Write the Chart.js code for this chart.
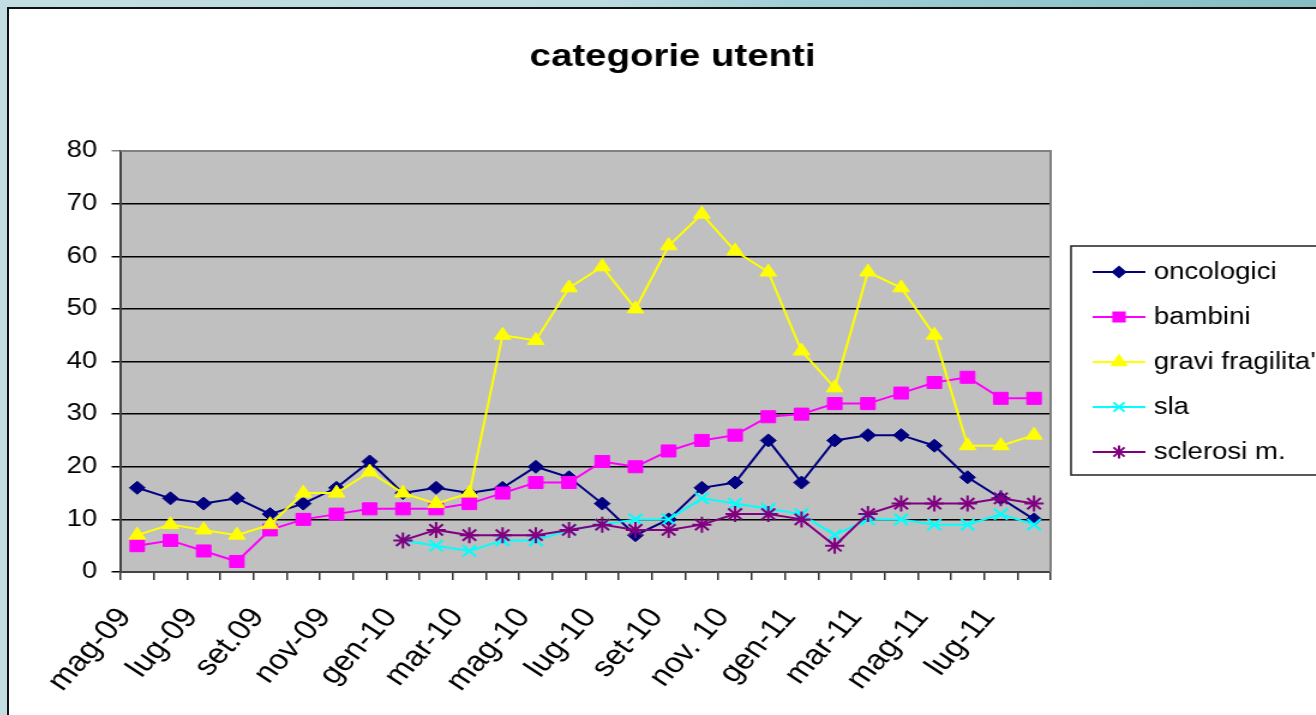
<!DOCTYPE html>
<html>
<head>
<meta charset="utf-8">
<script src="https://cdn.jsdelivr.net/npm/chart.js@4.4.1/dist/chart.umd.min.js"></script>
<style>
html,body{margin:0;padding:0;}
body{width:1316px;height:715px;overflow:hidden;position:relative;
  background:linear-gradient(90deg,#c2dee3 0%,#bddbe1 45%,#9fd0d6 60%,#86bec2 100%);}
#frame{position:absolute;left:7px;top:7px;width:1330px;height:730px;background:#fff;border:2px solid #111;box-sizing:border-box;}
/* the reference is stretched sideways, so the chart is too */
#wrap{position:absolute;left:9px;top:9px;width:1089px;height:706px;transform:scaleX(1.2);transform-origin:0 0;}
</style>
</head>
<body>
<div id="frame"></div>
<div id="wrap"><canvas id="chart"></canvas></div>
<script>
const chartTitle = "categorie utenti";
const months = ["mag-09","giu-09","lug-09","ago-09","set.09","ott-09","nov-09","dic-09",
  "gen-10","feb-10","mar-10","apr-10","mag-10","giu-10","lug-10","ago-10","set-10","ott-10",
  "nov. 10","dic-10","gen-11","feb-11","mar-11","apr-11","mag-11","giu-11","lug-11","ago-11"];

const oncologici = [16,14,13,14,11,13,16,21,15,16,15,16,20,18,13,7,10,16,17,25,17,25,26,26,24,18,14,10];
const bambini = [5,6,4,2,8,10,11,12,12,12,13,15,17,17,21,20,23,25,26,29.5,30,32,32,34,36,37,33,33];
const graviFragilita = [7,9,8,7,9,15,15,19,15,13,15,45,44,54,58,50,62,68,61,57,42,35,57,54,45,24,24,26];
const sla = [null,null,null,null,null,null,null,null,6,5,4,6,6,8,9,10,10,14,13,12,11,7,10,10,9,9,11,9];
const sclerosi = [null,null,null,null,null,null,null,null,6,8,7,7,7,8,9,8,8,9,11,11,10,5,11,13,13,13,14,13];

const yTicks = [0,10,20,30,40,50,60,70,80];

const FONT = "'Liberation Sans', Arial, sans-serif";

function series(label, data, color, style, radius, legendRadius, order){
  return {
    label, data, order,
    borderColor: color, backgroundColor: color,
    pointBorderColor: color, pointBackgroundColor: color,
    borderWidth: 2, pointStyle: style, pointRadius: radius, pointHoverRadius: radius,
    pointBorderWidth: (style === "star" || style === "crossRot") ? 2 : 1,
    legendRadius, tension: 0, spanGaps: false
  };
}

// grey plot area + frame lines + title
const plotBg = {
  id: "plotBg",
  beforeDraw(chart){
    const {ctx, chartArea: a} = chart;
    ctx.save();
    ctx.fillStyle = "#c0c0c0";
    ctx.fillRect(a.left, a.top, a.right - a.left, a.bottom - a.top);
    ctx.fillStyle = "#000";
    ctx.font = "bold 32px " + FONT;
    ctx.textAlign = "center";
    ctx.textBaseline = "middle";
    ctx.fillText(chartTitle, 553, 48);
    ctx.restore();
  },
  beforeDatasetsDraw(chart){
    const {ctx, chartArea: a} = chart;
    ctx.save();
    ctx.strokeStyle = "#808080";
    ctx.lineWidth = 2;
    ctx.beginPath();
    ctx.moveTo(a.left, a.top);
    ctx.lineTo(a.right, a.top);
    ctx.lineTo(a.right, a.bottom);
    ctx.stroke();
    ctx.restore();
  }
};

// excel style legend box on the right
const boxLegend = {
  id: "boxLegend",
  afterDraw(chart){
    const ctx = chart.ctx;
    const x0 = 885, y0 = 237, y1 = 466;
    ctx.save();
    ctx.fillStyle = "#fff";
    ctx.fillRect(x0, y0, chart.width - x0 + 5, y1 - y0);
    ctx.strokeStyle = "#222";
    ctx.lineWidth = 1.5;
    ctx.strokeRect(x0, y0, chart.width - x0 + 5, y1 - y0);
    chart.data.datasets.forEach((ds, i) => {
      const y = 263 + i * 45;
      ctx.strokeStyle = ds.borderColor;
      ctx.lineWidth = 2;
      ctx.beginPath();
      ctx.moveTo(903, y);
      ctx.lineTo(947, y);
      ctx.stroke();
      ctx.fillStyle = ds.backgroundColor;
      Chart.helpers.drawPoint(ctx, {
        pointStyle: ds.pointStyle, radius: ds.legendRadius, rotation: 0,
        borderWidth: ds.pointBorderWidth
      }, 925, y);
      ctx.fillStyle = "#000";
      ctx.font = "23px " + FONT;
      ctx.textBaseline = "middle";
      ctx.fillText(ds.label, 954, y + 1);
    });
    ctx.restore();
  }
};

new Chart(document.getElementById("chart"), {
  type: "line",
  data: {
    labels: months,
    datasets: [
      series("oncologici", oncologici, "#000080", "rectRot", 6.5, 5, 5),
      series("bambini", bambini, "#ff00ff", "rect", 8.5, 6.5, 4),
      series("gravi fragilita'", graviFragilita, "#ffff00", "triangle", 8, 6.5, 3),
      series("sla", sla, "#00ffff", "crossRot", 8, 6.5, 2),
      series("sclerosi m.", sclerosi, "#800080", "star", 8, 6.5, 1)
    ]
  },
  options: {
    responsive: true,
    maintainAspectRatio: false,
    animation: false,
    events: [],
    layout: { padding: { left: 0, right: 221, top: 142, bottom: 0 } },
    plugins: {
      legend: { display: false },
      tooltip: { enabled: false },
      title: { display: false }
    },
    scales: {
      x: {
        offset: true,
        grid: { offset: true, drawOnChartArea: false, color: "#333", tickLength: 8, lineWidth: 1.5 },
        border: { color: "#444", width: 2 },
        ticks: {
          autoSkip: false, minRotation: 52, maxRotation: 52, color: "#000", padding: 22,
          labelOffset: -10,
          font: { family: FONT, size: 28 },
          callback: (v, i) => i % 2 === 0 ? months[i] : ""
        },
        afterFit: s => { s.height = 143; }
      },
      y: {
        min: 0, max: 80,
        afterBuildTicks: s => { s.ticks = yTicks.map(v => ({ value: v })); },
        grid: {
          color: c => c.tick && c.tick.value === 80 ? "#808080" : "#000",
          lineWidth: 1.5, tickLength: 7.5
        },
        border: { color: "#444", width: 2 },
        ticks: { color: "#000", padding: 12, font: { family: FONT, size: 23 } },
        afterFit: s => { s.width = 93; }
      }
    }
  },
  plugins: [plotBg, boxLegend]
});
</script>
</body>
</html>
